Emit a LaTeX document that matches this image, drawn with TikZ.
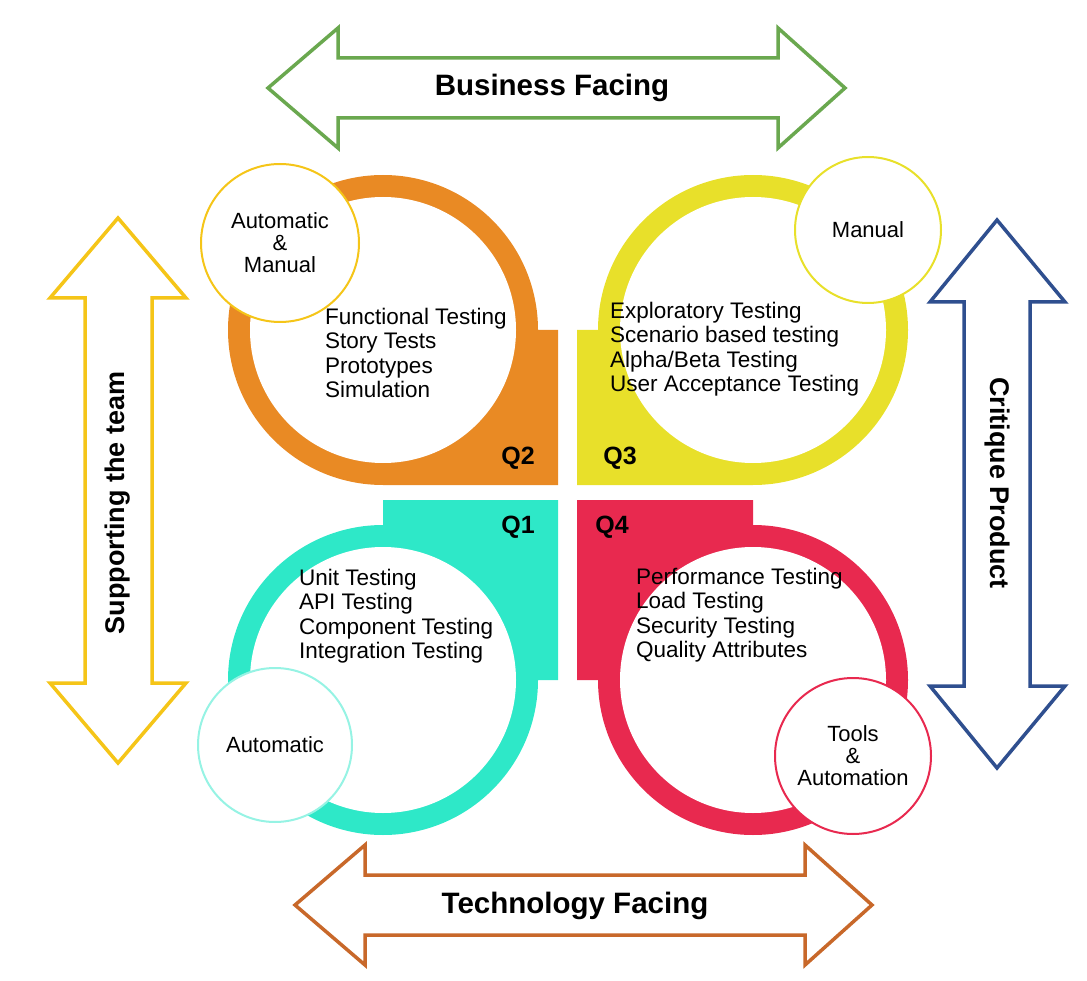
\documentclass[tikz,border=0pt]{standalone}
\usepackage{fontspec}
\setmainfont{Liberation Sans}
\definecolor{cor}{HTML}{E98A24}
\definecolor{cye}{HTML}{E8E02A}
\definecolor{cte}{HTML}{2EE8C8}
\definecolor{cre}{HTML}{E8294F}
\definecolor{agr}{HTML}{6AA84F}
\definecolor{abr}{HTML}{C8682A}
\definecolor{aye}{HTML}{F5C518}
\definecolor{abl}{HTML}{2F4F8F}
\begin{document}
\begin{tikzpicture}[x=1pt,y=1pt,
  arr/.style={line width=3.5pt,line join=miter},
  lst/.style={anchor=west,font=\fontsize{22.5}{24.5}\selectfont,align=left,inner sep=0pt},
  ql/.style={font=\fontsize{25}{25}\selectfont\bfseries,inner sep=0pt},
  ttl/.style={font=\fontsize{29.5}{29.5}\selectfont\bfseries,inner sep=0pt},
  vt/.style={font=\fontsize{27}{27}\selectfont\bfseries,inner sep=0pt},
  sc/.style={circle,draw,line width=2pt,fill=white,inner sep=0pt,align=center,font=\fontsize{22}{22}\selectfont}]
\useasboundingbox (0,0) rectangle (1087,-981);
% arrows
\draw[arr,draw=agr,fill=white] (268,-88) -- (338,-28) -- (338,-58) -- (778,-58) -- (778,-28) -- (845,-88) -- (778,-148) -- (778,-118) -- (338,-118) -- (338,-148) -- cycle;
\node[ttl] (bf) at (552,-88) {Business Facing};
\draw[arr,draw=abr,fill=white] (295,-905) -- (365,-845) -- (365,-875) -- (805,-875) -- (805,-845) -- (872,-905) -- (805,-965) -- (805,-935) -- (365,-935) -- (365,-965) -- cycle;
\node[ttl] (tf) at (575,-906) {Technology Facing};
\draw[arr,draw=aye,fill=white] (118,-218) -- (186,-298) -- (152,-298) -- (152,-683) -- (186,-683) -- (118,-763) -- (50,-683) -- (85,-683) -- (85,-298) -- (50,-298) -- cycle;
\node[vt,rotate=90] (st) at (118,-503) {Supporting the team};
\draw[arr,draw=abl,fill=white] (997,-220) -- (1065,-302) -- (1030,-302) -- (1030,-686) -- (1065,-686) -- (997,-768) -- (930,-686) -- (964,-686) -- (964,-302) -- (930,-302) -- cycle;
\node[vt,rotate=-90] (cp) at (997,-483) {Critique Product};
% quadrants
\fill[cor] (538,-330) arc[start angle=0,end angle=270,radius=155] -- (558,-485) -- (558,-330) -- cycle;
\fill[white] (383,-330) circle[radius=133];
\fill[cye] (753,-485) arc[start angle=270,end angle=540,radius=155] -- (577,-330) -- (577,-485) -- cycle;
\fill[white] (753,-330) circle[radius=133];
\fill[cte] (383,-525) arc[start angle=90,end angle=360,radius=155] -- (558,-680) -- (558,-500) -- (383,-500) -- cycle;
\fill[white] (383,-680) circle[radius=133];
\fill[cre] (598,-680) arc[start angle=180,end angle=450,radius=155] -- (753,-500) -- (577,-500) -- (577,-680) -- cycle;
\fill[white] (753,-680) circle[radius=133];
% labels
\node[ql] (q2) at (518,-458) {Q2};
\node[ql] (q3) at (620,-458) {Q3};
\node[ql] (q1) at (518,-527) {Q1};
\node[ql] (q4) at (612,-527) {Q4};
\node[lst] (l2) at (325,-353) {Functional Testing\\Story Tests\\Prototypes\\Simulation};
\node[lst] (l3) at (610,-349) {Exploratory Testing\\Scenario based testing\\Alpha/Beta Testing\\User Acceptance Testing};
\node[lst] (l1) at (299,-616) {Unit Testing\\API Testing\\Component Testing\\Integration Testing};
\node[lst] (l4) at (636,-615) {Performance Testing\\Load Testing\\Security Testing\\Quality Attributes};
% small circles
\node[sc,draw=aye,minimum size=158pt] (c2) at (280,-243) {Automatic\\\&\\Manual};
\node[sc,draw=cye,minimum size=146pt] (c3) at (868,-230) {Manual};
\node[sc,draw=cte!50,minimum size=154pt] (c1) at (275,-745) {Automatic};
\node[sc,draw=cre,minimum size=156pt] (c4) at (853,-756) {Tools\\\&\\Automation};
\end{tikzpicture}
\end{document}
